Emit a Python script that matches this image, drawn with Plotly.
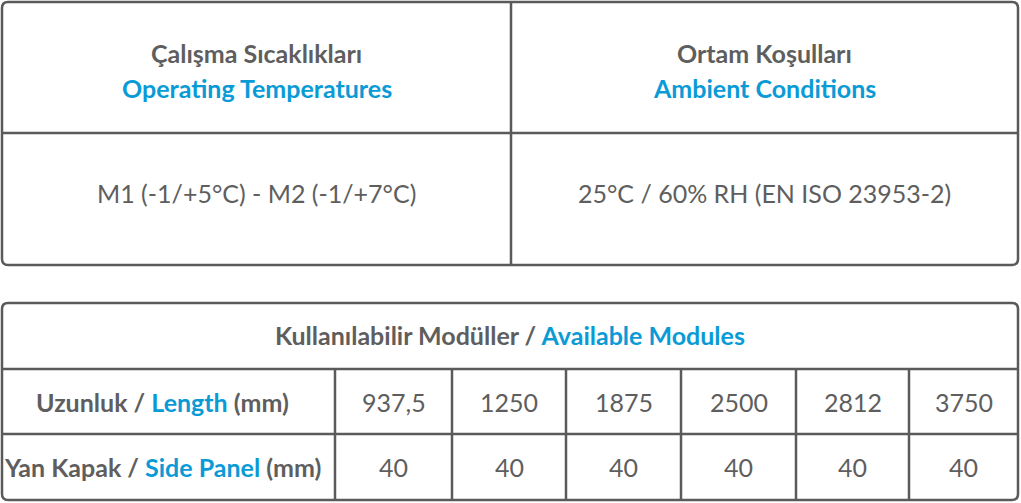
import plotly.graph_objects as go

# table content
top_headers_tr = ["Çalışma Sıcaklıkları", "Ortam Koşulları"]
top_headers_en = ["Operating Temperatures", "Ambient Conditions"]
top_values = ["M1 (-1/+5°C) - M2 (-1/+7°C)", "25°C / 60% RH (EN ISO 23953-2)"]

modules_title_tr = "Kullanılabilir Modüller"
modules_title_en = "Available Modules"
row_labels_tr = ["Uzunluk", "Yan Kapak"]
row_labels_en = ["Length", "Side Panel"]
lengths = ["937,5", "1250", "1875", "2500", "2812", "3750"]
side_panels = ["40", "40", "40", "40", "40", "40"]

GRAY = "#5e5e5e"
BLUE = "#0a9bd6"
LINE = "#5a5a5a"
FONT = "Lato, Roboto, sans-serif"
W, H = 1021, 503


def rounded_rect(x0, y0, x1, y1, r=6):
    return (f"M {x0+r},{y0} L {x1-r},{y0} Q {x1},{y0} {x1},{y0+r} "
            f"L {x1},{y1-r} Q {x1},{y1} {x1-r},{y1} L {x0+r},{y1} "
            f"Q {x0},{y1} {x0},{y1-r} L {x0},{y0+r} Q {x0},{y0} {x0+r},{y0} Z")


shapes = []
annotations = []


def line(x0, y0, x1, y1):
    shapes.append(dict(type="line", x0=x0, y0=y0, x1=x1, y1=y1,
                       line=dict(color=LINE, width=2.5), layer="above"))


def text(x, y, s, size=25):
    annotations.append(dict(x=x, y=y, text=s, showarrow=False, xanchor="center",
                            yanchor="middle", font=dict(family=FONT, size=size, color=GRAY)))


# top table
tx0, ty0, tx1, ty1 = 2, 2, 1018, 265
tmid, trow = 511, 133
shapes.append(dict(type="path", path=rounded_rect(tx0, ty0, tx1, ty1),
                   line=dict(color=LINE, width=2.5)))
line(tmid, ty0, tmid, ty1)
line(tx0, trow, tx1, trow)

col_centers = [(tx0 + tmid) / 2, (tmid + tx1) / 2]
for i, cx in enumerate(col_centers):
    text(cx, 53, f"<b>{top_headers_tr[i]}</b>")
    text(cx, 88, f"<b><span style='color:{BLUE}'>{top_headers_en[i]}</span></b>")
    text(cx, 193, top_values[i])

# bottom table
bx0, by0, bx1, by1 = 2, 303, 1018, 500
row_lines = [369, 434]
col_lines = [335, 452, 566, 681, 796, 909]
shapes.append(dict(type="path", path=rounded_rect(bx0, by0, bx1, by1),
                   line=dict(color=LINE, width=2.5)))
for y in row_lines:
    line(bx0, y, bx1, y)
for x in col_lines:
    line(x, row_lines[0], x, by1)

text((bx0 + bx1) / 2, 335,
     f"<b>{modules_title_tr} / <span style='color:{BLUE}'>{modules_title_en}</span></b>")

row_centers = [(row_lines[0] + row_lines[1]) / 2, (row_lines[1] + by1) / 2]
for r, (tr, en) in enumerate(zip(row_labels_tr, row_labels_en)):
    text(162, row_centers[r], f"<b>{tr} / <span style='color:{BLUE}'>{en}</span> (mm)</b>")

edges = col_lines + [bx1]
for j, (ln, sp) in enumerate(zip(lengths, side_panels)):
    cx = (edges[j] + edges[j + 1]) / 2
    text(cx, row_centers[0], ln)
    text(cx, row_centers[1], sp)

fig = go.Figure()
fig.update_layout(
    width=W, height=H,
    margin=dict(l=0, r=0, t=0, b=0),
    paper_bgcolor="white", plot_bgcolor="white",
    xaxis=dict(range=[0, W], visible=False, fixedrange=True),
    yaxis=dict(range=[H, 0], visible=False, fixedrange=True),
    shapes=shapes,
    annotations=annotations,
    showlegend=False,
)
fig.write_html("out.html", config=dict(displayModeBar=False),
               post_script="document.body.style.margin='0';document.body.style.overflow='hidden';")
